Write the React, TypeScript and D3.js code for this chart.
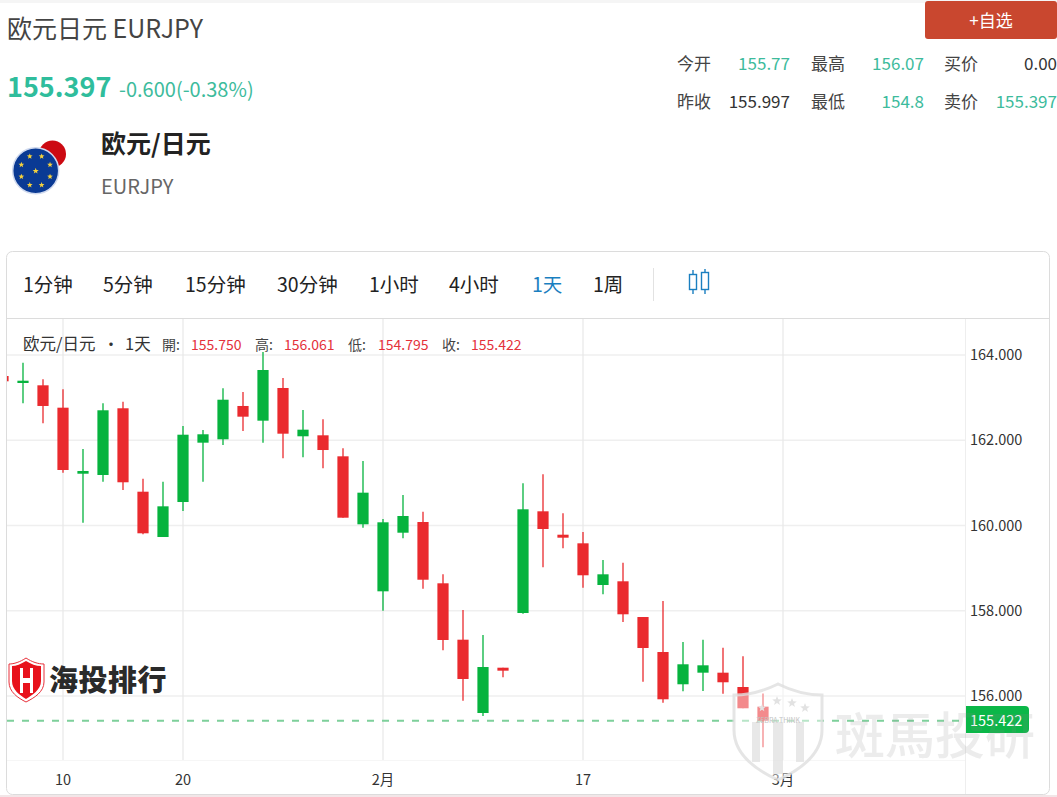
import React from "react";
import * as d3 from "d3";

const FONT = "'Noto Sans CJK SC','Noto Sans',sans-serif";
const opens = [163.507,163.343,163.289,162.764,161.215,161.185,162.75,160.793,159.73,160.551,161.943,162.022,162.804,162.459,163.226,162.093,162.116,161.623,160.028,158.456,159.831,160.082,158.644,157.321,155.601,156.664,157.947,160.333,159.784,159.582,158.604,158.691,157.853,157.032,156.275,156.547,156.547,156.211,155.75];
const closes = [163.383,163.397,162.804,161.302,161.279,162.703,161.014,159.817,160.45,162.13,162.14,162.951,162.553,163.648,162.154,162.248,161.771,160.183,160.77,160.075,160.223,158.728,157.314,156.399,156.68,156.594,160.38,159.918,159.714,158.832,158.855,157.917,157.126,155.923,156.744,156.72,156.322,155.712,155.422];
const highs = [163.507,163.819,163.43,163.195,161.795,162.867,162.904,161.098,161.028,162.334,162.24,163.219,163.132,164.07,163.46,162.71,162.492,161.811,161.513,160.153,160.716,160.324,158.855,158.018,157.431,156.664,160.99,161.201,160.286,159.848,159.191,159.127,157.853,158.229,157.267,157.321,157.133,156.931,156.061];
const lows = [163.383,162.867,162.398,161.239,160.066,161.028,160.833,159.794,159.73,160.34,161.028,161.889,162.217,161.943,161.577,161.6,161.342,160.183,159.948,158.001,159.7,158.517,157.072,155.89,155.531,156.439,157.931,159.019,159.465,158.541,158.386,157.736,156.335,155.843,156.11,156.117,156.054,155.712,154.795];
const yTicks = [164, 162, 160, 158, 156];
const xTickIndex = [3, 9, 19, 29, 39];
const xTickLabels = ["10", "20", "2月", "17", "3月"];
const lastPrice = 155.422;
const tabs = [["1分钟",23,"#222"],["5分钟",103,"#222"],["15分钟",185,"#222"],["30分钟",277,"#222"],["1小时",369,"#222"],["4小时",449,"#222"],["1天",532,"#1a7fc0"],["1周",593,"#222"]] as const;
const stats = [
  [["今开",677],["155.77",790,"#3dbb9c"],["最高",811],["156.07",924,"#3dbb9c"],["买价",944],["0.00",1057,"#333"]],
  [["昨收",677],["155.997",790,"#333"],["最低",811],["154.8",924,"#3dbb9c"],["卖价",944],["155.397",1057,"#3dbb9c"]],
] as const;
const legendParts = [["開:",162,"#444"],["155.750",191,"#e4323b"],["高:",255,"#444"],["156.061",284,"#e4323b"],["低:",348,"#444"],["154.795",378,"#e4323b"],["收:",442,"#444"],["155.422",471,"#e4323b"]] as const;

const y = d3.scaleLinear().domain([164, 156]).range([355, 696]);
const x = d3.scaleLinear().domain([0, 1]).range([3, 23]);
const UP = "#06b33e";
const DOWN = "#ea2a2e";

const starPath = (cx: number, cy: number, r: number) => {
  const pts = d3.range(10).map((k) => {
    const a = -Math.PI / 2 + (k * Math.PI) / 5;
    const rr = k % 2 ? r * 0.42 : r;
    return [cx + rr * Math.cos(a), cy + rr * Math.sin(a)];
  });
  return "M" + pts.map((p) => p.join(",")).join("L") + "Z";
};

function Flag() {
  return (
    <g>
      <circle cx={52.5} cy={154} r={13.5} fill="#cc0a12" />
      <circle cx={35.7} cy={170.7} r={23} fill="#0a3a94" stroke="#cfd9ee" strokeWidth={1.5} />
      {d3.range(8).map((k) => {
        const a = ((k + 0.5) * Math.PI) / 4;
        return <path key={k} d={starPath(35.7 + 15.5 * Math.cos(a), 170.7 + 15.5 * Math.sin(a), 3)} fill="#f4d13d" />;
      })}
      <path d={starPath(35.7, 171, 3.2)} fill="#f4d13d" />
    </g>
  );
}

export default function App() {
  return (
    <svg width={1057} height={797} style={{ position: "absolute", left: 0, top: 0, fontFamily: FONT }}>
      <rect width={1057} height={797} fill="#fff" />
      <rect width={1057} height={3} fill="#f5f5f5" />
      <rect y={795} width={1057} height={2} fill="#f2e6e8" />

      <text x={7} y={38} fontSize={25} fill="#444">欧元日元 EURJPY</text>
      <text x={7} y={97} fontSize={27} fontWeight={700} fill="#2fbd9c">155.397</text>
      <text x={119} y={97} fontSize={20} fill="#3dbb9c">-0.600(-0.38%)</text>
      <Flag />
      <text x={101} y={153} fontSize={25} fontWeight={700} fill="#222">欧元/日元</text>
      <text x={101} y={194} fontSize={20} fill="#666">EURJPY</text>

      <rect x={925} y={1} width={132} height={38} rx={3} fill="#c9472f" />
      <text x={991} y={27} fontSize={17} fill="#fff" textAnchor="middle">+自选</text>
      {stats.map((row, r) =>
        row.map((c, k) => (
          <text key={`${r}-${k}`} x={c[1]} y={70 + r * 38} fontSize={17} fill={c[2] ?? "#444"} textAnchor={c[2] ? "end" : "start"}>{c[0]}</text>
        ))
      )}

      <rect x={6.5} y={251.5} width={1043} height={543} rx={6} fill="#fff" stroke="#dcdcdc" />
      {tabs.map(([t, px, col]) => (
        <text key={t} x={px} y={292} fontSize={19.5} fill={col}>{t}</text>
      ))}
      <line x1={653.5} x2={653.5} y1={268} y2={301} stroke="#e2e2e2" />
      <g fill="none" stroke="#1a7fc0" strokeWidth={1.4}>
        <rect x={689.5} y={274.5} width={7} height={15} />
        <path d="M693,270V274.5M693,289.5V294" />
        <rect x={701.5} y={272.5} width={7} height={17} />
        <path d="M705,269V272.5M705,289.5V294" />
      </g>
      <line x1={7} x2={1049} y1={318.5} y2={318.5} stroke="#dcdcdc" />

      {yTicks.map((t) => (
        <line key={t} x1={7} x2={965} y1={y(t)} y2={y(t)} stroke="#efefef" strokeWidth={1.5} />
      ))}
      {xTickIndex.map((i) => (
        <line key={i} x1={x(i)} x2={x(i)} y1={319} y2={760} stroke="#e8e8e8" strokeWidth={1.2} />
      ))}
      <line x1={7} x2={965} y1={760.5} y2={760.5} stroke="#f6f6f6" />
      <line x1={965.5} x2={965.5} y1={319} y2={794} stroke="#eeeeee" />

      <clipPath id="plot"><rect x={7} y={319} width={958} height={441} /></clipPath>
      <line x1={7} x2={965} y1={y(lastPrice)} y2={y(lastPrice)} stroke="#7ed09b" strokeWidth={2} strokeDasharray="7 8" />
      <g clipPath="url(#plot)">
        {opens.map((o, i) => {
          const c = closes[i];
          const col = c >= o ? UP : DOWN;
          const top = y(Math.max(o, c));
          const h = Math.max(2, Math.abs(y(o) - y(c)));
          return (
            <g key={i}>
              <line x1={x(i)} x2={x(i)} y1={y(highs[i])} y2={y(lows[i])} stroke={col} strokeWidth={1.3} />
              <rect x={x(i) - 5.6} y={top} width={11.2} height={h} fill={col} />
            </g>
          );
        })}
      </g>

      <text x={23} y={350} fontSize={16.5} fill="#333">欧元/日元</text>
      <text x={111} y={350} fontSize={16} fill="#333" textAnchor="middle">・</text>
      <text x={125} y={350} fontSize={16.5} fill="#333">1天</text>
      {legendParts.map(([t, px, col]) => (
        <text key={t} x={px} y={350} fontSize={14} fill={col}>{t}</text>
      ))}
      {yTicks.map((t) => (
        <text key={t} x={970} y={y(t) + 5} fontSize={14.5} fill="#333">{d3.format(".3f")(t)}</text>
      ))}
      {xTickIndex.map((i, k) => (
        <text key={i} x={x(i)} y={785} fontSize={14.5} fill="#333" textAnchor="middle">{xTickLabels[k]}</text>
      ))}
      <path d="M966,706H1025a4,4 0 0 1 4,4V729a4,4 0 0 1 -4,4H966Z" fill="#0bb748" />
      <text x={970} y={726} fontSize={14.5} fill="#fff">{d3.format(".3f")(lastPrice)}</text>

      {/* red logo */}
      <g>
        <path d="M26,658 C20,662 14,664 9,664 V682 C9,692 18,698 26,702 C34,698 44,692 44,682 V664 C38,664 32,662 26,658Z" fill="#fff" stroke="#e8303a" strokeWidth={1} />
        <path d="M26,661 C21,664 16,666 12,666 V681 C12,690 20,695 26,699 C32,695 41,690 41,681 V666 C36,666 31,664 26,661Z" fill="#e8121c" />
        <path d="M20,668H23V678H30V668H33V693H30V683H23V693H20Z" fill="#fff" />
      </g>
      <text x={49} y={691} fontSize={29} fontWeight={900} fill="#2a2a2a" style={{ letterSpacing: "0.5px" }}>海投排行</text>

      {/* zebra watermark */}
      <g>
        <path d="M778,684 C762,692 748,695 734,695 V730 C734,755 756,770 778,780 C800,770 822,755 822,730 V695 C808,695 794,692 778,684Z" fill="#fff" fillOpacity={0.45} stroke="#dedede" strokeOpacity={0.8} strokeWidth={3} />
        <rect x={752} y={722} width={8} height={40} fill="#d8d8d8" fillOpacity={0.6} />
        <rect x={773} y={722} width={10} height={52} fill="#d8d8d8" fillOpacity={0.6} />
        <rect x={796} y={722} width={8} height={40} fill="#d8d8d8" fillOpacity={0.6} />
        <path d={starPath(777, 701, 5)} fill="#e2e2e2" />
        <path d={starPath(792, 703, 5)} fill="#e2e2e2" />
        <path d={starPath(805, 708, 5)} fill="#e2e2e2" />
        <path d={starPath(762, 708, 4)} fill="#e2e2e2" />
        <text x={778} y={723} fontSize={7} fill="#c4c4c4" textAnchor="middle">ZEBRA THINK</text>
        <text x={835} y={754} fontSize={50} fontWeight={500} fill="#8a8a8a" fillOpacity={0.16} fontFamily="'Noto Sans CJK TC',sans-serif">斑馬投研</text>
      </g>
    </svg>
  );
}
